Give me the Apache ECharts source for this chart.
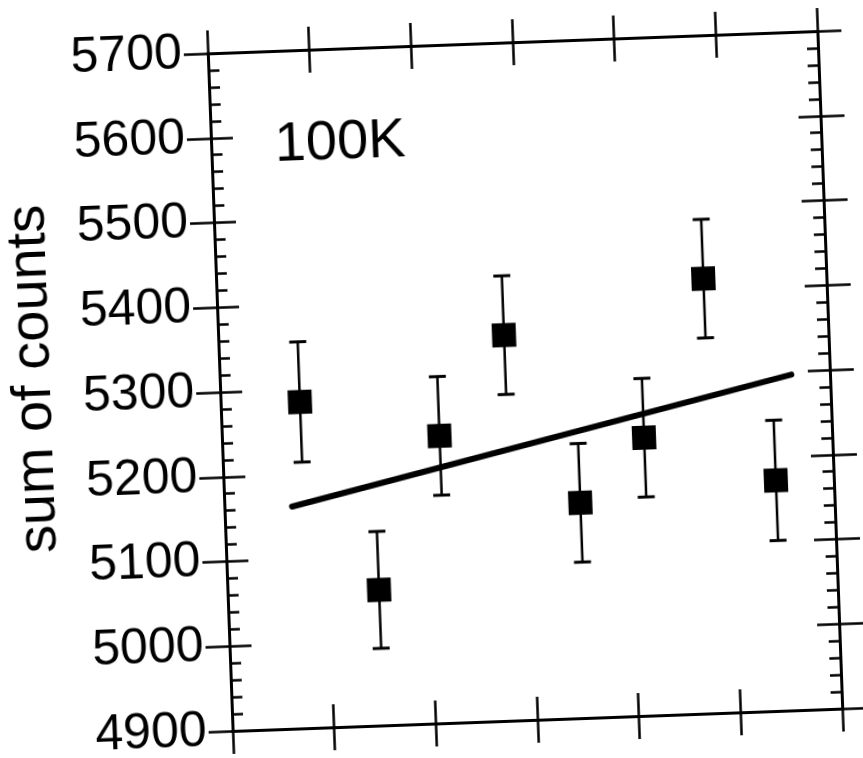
<!DOCTYPE html>
<html>
<head>
<meta charset="utf-8">
<script src="https://cdn.jsdelivr.net/npm/echarts@6/dist/echarts.min.js"></script>
<style>
  html, body { margin: 0; padding: 0; background: #fff; }
  /* the scanned figure sits slightly tilted on the page */
  #chart { width: 863px; height: 758px; transform: rotate(-2.1deg); transform-origin: 525px 381px; }
</style>
</head>
<body>
<div id="chart"></div>
<script>
// measurement positions (no labels on the x axis) and summed counts
const xPos   = [0.78, 1.49, 2.14, 2.81, 3.50, 4.15, 4.79, 5.43];
const counts = [5285, 5060, 5239, 5355, 5154, 5228, 5413, 5172];
const errors = [71, 69, 70, 70, 70, 70, 70, 71];

// linear fit drawn through the points
const fitX = [0.665, 5.62];
const fitY = [5162, 5296];

const yMin = 4900, yMax = 5700, yStep = 100;
const xMin = 0, xMax = 6, xStep = 1;

const FONT = '"Liberation Sans", Arial, sans-serif';
const axisLine = { show: true, onZero: false, lineStyle: { color: '#000', width: 3 } };

function yAx(pos, inside, withLabels) {
  return {
    type: 'value', position: pos, min: yMin, max: yMax, interval: yStep,
    axisLine: axisLine,
    axisTick: { show: true, inside: inside, length: inside ? 22 : 24, lineStyle: { color: '#000', width: 2.5 } },
    minorTick: { show: inside, splitNumber: 5, length: 11, lineStyle: { color: '#000', width: 2.5 } },
    axisLabel: {
      show: withLabels, margin: 26, color: '#000', fontSize: 50, fontFamily: FONT,
      formatter: v => String(v)
    },
    splitLine: { show: false }
  };
}

function xAx(pos, inside) {
  return {
    type: 'value', position: pos, min: xMin, max: xMax, interval: xStep,
    axisLine: axisLine,
    axisTick: { show: true, inside: inside, length: 23, lineStyle: { color: '#000', width: 2.5 } },
    axisLabel: { show: false },
    splitLine: { show: false }
  };
}

const points = xPos.map((x, i) => [x, counts[i], errors[i]]);

const chart = echarts.init(document.getElementById('chart'));

chart.setOption({
  animation: false,
  backgroundColor: '#fff',
  grid: { left: 220, top: 42, width: 610, height: 678, containLabel: false },
  xAxis: [xAx('bottom', false), xAx('bottom', true), xAx('top', false), xAx('top', true)],
  yAxis: [yAx('left', false, true), yAx('left', true, false), yAx('right', false, false), yAx('right', true, false)],
  graphic: [
    { type: 'text', x: 349, y: 137, style: { text: '100K', fontSize: 56, fontFamily: FONT, fill: '#000', textAlign: 'center', textVerticalAlign: 'middle' } },
    { type: 'text', x: 35, y: 361, rotation: Math.PI / 2, style: { text: 'sum of counts', fontSize: 56, fontFamily: FONT, fill: '#000', textAlign: 'center', textVerticalAlign: 'middle' } }
  ],
  series: [
    {
      type: 'line',
      data: fitX.map((x, i) => [x, fitY[i]]),
      symbol: 'none',
      lineStyle: { color: '#000', width: 6, cap: 'round' },
      z: 2
    },
    {
      type: 'custom',
      data: points,
      renderItem: function (params, api) {
        const x = api.value(0), y = api.value(1), e = api.value(2);
        const top = api.coord([x, y + e]);
        const bot = api.coord([x, y - e]);
        const hw = 8.5;
        const st = { stroke: '#000', lineWidth: 2.5 };
        return {
          type: 'group',
          children: [
            { type: 'line', shape: { x1: top[0], y1: top[1], x2: bot[0], y2: bot[1] }, style: st },
            { type: 'line', shape: { x1: top[0] - hw, y1: top[1], x2: top[0] + hw, y2: top[1] }, style: { stroke: '#000', lineWidth: 3 } },
            { type: 'line', shape: { x1: bot[0] - hw, y1: bot[1], x2: bot[0] + hw, y2: bot[1] }, style: { stroke: '#000', lineWidth: 3 } }
          ]
        };
      },
      z: 3
    },
    {
      type: 'scatter',
      data: points.map(p => [p[0], p[1]]),
      symbol: 'rect',
      symbolSize: 24,
      itemStyle: { color: '#000', opacity: 1 },
      z: 4
    }
  ]
});
</script>
</body>
</html>
